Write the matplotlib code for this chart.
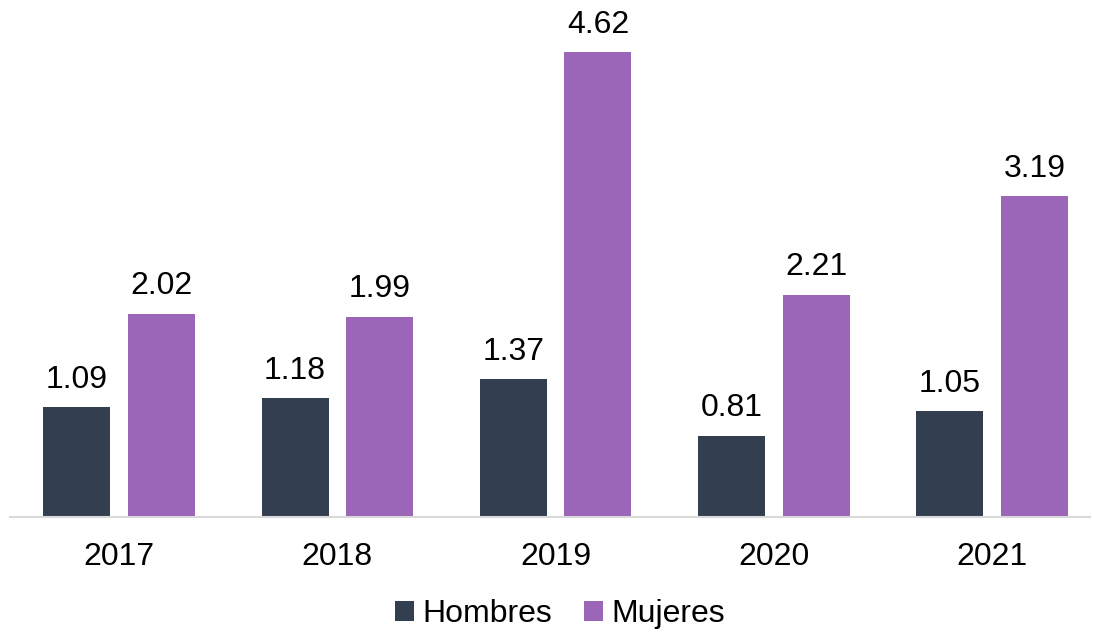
import numpy as np
import matplotlib
matplotlib.use("Agg")
import matplotlib.pyplot as plt

years = ["2017", "2018", "2019", "2020", "2021"]
hombres = [1.09, 1.18, 1.37, 0.81, 1.05]
mujeres = [2.02, 1.99, 4.62, 2.21, 3.19]

plt.rcParams["font.family"] = ["Liberation Sans", "DejaVu Sans"]

fig = plt.figure(figsize=(10.93, 6.32), dpi=100)
ax = fig.add_axes([10 / 1093, 1 - 517 / 632, 1080 / 1093, (517 - 14) / 632])

x = np.arange(len(years))
w = 0.307
off = 0.194
b1 = ax.bar(x - off, hombres, w, color="#333F50", label="Hombres")
b2 = ax.bar(x + off, mujeres, w, color="#9B65B8", label="Mujeres")
for bars, vals in [(b1, hombres), (b2, mujeres)]:
    for r, v in zip(bars, vals):
        ax.annotate(f"{v:.2f}", (r.get_x() + r.get_width() / 2, v),
                    xytext=(0, 9), textcoords="offset points",
                    ha="center", va="bottom", fontsize=23)

ax.set_xlim(-0.5, -0.5 + 1080 / 218.25)
ax.set_ylim(0, 5.0)
ax.set_xticks(x, years, fontsize=23)
ax.tick_params(axis="x", length=0, pad=18)
ax.set_yticks([])
for s in ["top", "right", "left"]:
    ax.spines[s].set_visible(False)
ax.spines["bottom"].set_color("#D9D9D9")
ax.spines["bottom"].set_linewidth(1.5)

fig.legend(loc="center", bbox_to_anchor=(560 / 1093, 1 - 614 / 632), ncol=2,
           frameon=False, fontsize=23, handlelength=0.6, handleheight=0.6,
           handletextpad=0.25, columnspacing=1.0, borderpad=0)

fig.savefig("out.png", dpi=100)
